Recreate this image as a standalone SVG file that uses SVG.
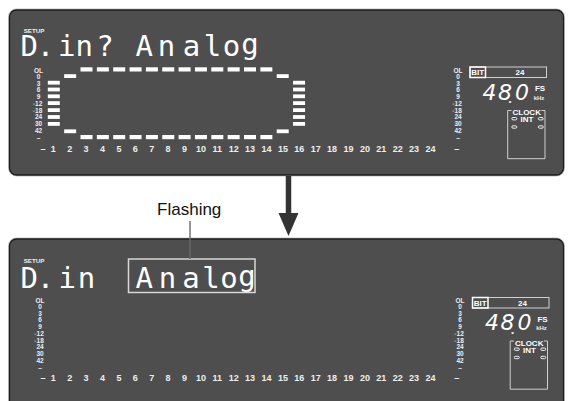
<svg xmlns="http://www.w3.org/2000/svg" xmlns:xlink="http://www.w3.org/1999/xlink" width="568" height="401" viewBox="0 0 568 401">
<style>
.panel-out{fill:none;stroke:#c4c4c4;stroke-width:3}
.panel{fill:#4e4e4e;stroke:#1e1e1e;stroke-width:1.3}
.lcd{font-family:"DejaVu Sans Mono","Liberation Mono",monospace;font-size:29px;fill:#fff;text-anchor:middle}
.sm{font-family:"Liberation Sans",Arial,sans-serif;font-weight:bold;fill:#eee;text-anchor:middle}
.sc{font-size:6.5px}
.num{font-size:9px}
.lab{font-size:8px;fill:#fff}
.bar{fill:#fff}
.seg{font-family:"DejaVu Sans ExtraLight","DejaVu Sans",sans-serif;font-weight:200;font-style:italic;font-size:22px;fill:#fff;text-anchor:middle}
.box{fill:none;stroke:#d0d0d0;stroke-width:1}
.ind{fill:#4e4e4e;stroke:#fff;stroke-width:0.9}
</style>
<defs>
<g id="scale" class="sm sc">
<text x="0" y="73.2">OL</text>
<text x="0" y="78.5">0</text>
<text x="0" y="85.8">3</text>
<text x="0" y="91.8">6</text>
<text x="0" y="98.5">9</text>
<text x="-1" y="105.8">◦12</text>
<text x="-1" y="112.5">◦18</text>
<text x="0" y="119.2">24</text>
<text x="0" y="125.8">30</text>
<text x="0" y="133.2">42</text>
<text x="0" y="139.6">–</text>
</g>
<g id="nums" class="sm num">
<text x="43" y="152.3">–</text>
<text x="53.3" y="152.3">1</text><text x="69.7" y="152.3">2</text><text x="86.1" y="152.3">3</text><text x="102.5" y="152.3">4</text><text x="118.9" y="152.3">5</text><text x="135.3" y="152.3">6</text><text x="151.7" y="152.3">7</text><text x="168.1" y="152.3">8</text><text x="184.5" y="152.3">9</text><text x="200.9" y="152.3">10</text><text x="217.3" y="152.3">11</text><text x="233.7" y="152.3">12</text><text x="250.1" y="152.3">13</text><text x="266.5" y="152.3">14</text><text x="282.9" y="152.3">15</text><text x="299.3" y="152.3">16</text><text x="315.7" y="152.3">17</text><text x="332.1" y="152.3">18</text><text x="348.5" y="152.3">19</text><text x="364.9" y="152.3">20</text><text x="381.3" y="152.3">21</text><text x="397.7" y="152.3">22</text><text x="414.1" y="152.3">23</text><text x="430.5" y="152.3">24</text>
<text x="456.7" y="151.6">–</text>
</g>
<g id="status">
<rect class="box" x="470" y="67" width="76.5" height="10.5"/>
<rect x="470" y="67" width="15.5" height="10.5" fill="none" stroke="#fff" stroke-width="1.5"/>
<text class="sm lab" x="477.8" y="75.2">BIT</text>
<text class="sm lab" x="520" y="75.2">24</text>
<text class="seg" x="489.5 505 522" y="99.5">480</text>
<text class="sm" x="510" y="103" font-size="13px" fill="#fff">.</text>
<text class="sm lab" x="540" y="91">FS</text>
<text class="sm" x="539" y="99.6" font-size="6px" fill="#fff">kHz</text>
<path class="box" d="M511.5,110.5 H507.7 V158.7 H545 V110.5 H541.5" stroke="#e4e4e4"/>
<text class="sm lab" x="526.7" y="115">CLOCK</text>
<text class="sm lab" x="527" y="122.3">INT</text>
<rect class="ind" x="511.8" y="117.5" width="5" height="2.4" rx="1.2"/>
<rect class="ind" x="511.8" y="125.8" width="5" height="2.4" rx="1.2"/>
<rect class="ind" x="538.3" y="117.5" width="5" height="2.4" rx="1.2"/>
<rect class="ind" x="538.3" y="125.8" width="5" height="2.4" rx="1.2"/>
</g>
<g id="barcol">
<rect class="bar" x="0" y="80.8" width="12" height="3.8"/>
<rect class="bar" x="0" y="87.6" width="12" height="3.8"/>
<rect class="bar" x="0" y="94.4" width="12" height="3.8"/>
<rect class="bar" x="0" y="101.2" width="12" height="3.8"/>
<rect class="bar" x="0" y="108.2" width="12" height="3.8"/>
<rect class="bar" x="0" y="115.1" width="12" height="3.8"/>
<rect class="bar" x="0" y="122" width="12" height="3.8"/>
</g>
<g id="dashpair">
<rect class="bar" x="0" y="67.3" width="12" height="4.2"/>
<rect class="bar" x="0" y="135" width="12" height="4.2"/>
</g>
<g id="edgepair">
<rect class="bar" x="0" y="74.2" width="12" height="3.8"/>
<rect class="bar" x="0" y="129.4" width="12" height="3.8"/>
</g>
</defs>
<rect width="568" height="401" fill="#fff"/>

<g id="top-panel">
<rect class="panel-out" x="9.5" y="10" width="554" height="165" rx="7"/>
<rect class="panel" x="9.5" y="10" width="554" height="165" rx="7"/>
<text class="sm" x="34" y="32.5" font-size="6.2px" fill="#fff">SETUP</text>
<text class="lcd" x="29.2 45.5 66.7 84.2 105" y="56.3">D.in?</text>
<text class="lcd" x="144.2 166.5 191.5 212.5 231.5 250" y="56.3">Analo<tspan dy="-2">g</tspan></text>
<use xlink:href="#scale" x="38.5" y="0"/>
<use xlink:href="#scale" x="458" y="0"/>
<use xlink:href="#nums"/>
<use xlink:href="#status"/>
<use xlink:href="#barcol" x="47.8"/>
<use xlink:href="#edgepair" x="64.15"/>
<use xlink:href="#dashpair" x="80.5"/><use xlink:href="#dashpair" x="96.85"/><use xlink:href="#dashpair" x="113.2"/><use xlink:href="#dashpair" x="129.55"/><use xlink:href="#dashpair" x="145.9"/><use xlink:href="#dashpair" x="162.25"/><use xlink:href="#dashpair" x="178.6"/><use xlink:href="#dashpair" x="194.95"/><use xlink:href="#dashpair" x="211.3"/><use xlink:href="#dashpair" x="227.65"/><use xlink:href="#dashpair" x="244"/><use xlink:href="#dashpair" x="260.35"/>
<use xlink:href="#edgepair" x="276.7"/>
<use xlink:href="#barcol" x="293.05"/>
</g>

<g id="bottom-panel">
<rect class="panel-out" x="9.5" y="239" width="554" height="180" rx="7"/>
<rect class="panel" x="9.5" y="239" width="554" height="180" rx="7"/>
<text class="sm" x="34" y="262.5" font-size="6.2px" fill="#fff">SETUP</text>
<text class="lcd" x="29.2 45.5 67.3 86.5" y="288.3">D.in</text>
<text class="lcd" x="144.2 167.5 191 211 229 247" y="288.3">Analo<tspan dy="-2">g</tspan></text>
<rect x="128.5" y="259" width="126.5" height="33.5" fill="none" stroke="#d8d8d8" stroke-width="1.5"/>
<use xlink:href="#scale" x="40" y="230"/>
<use xlink:href="#scale" x="460" y="230"/>
<use xlink:href="#nums" y="229"/>
<use xlink:href="#status" x="2.5" y="230.5"/>
</g>

<g id="flashing-label">
<text x="189.2" y="215" font-family="'Liberation Sans',Arial,sans-serif" font-size="17px" fill="#111" text-anchor="middle">Flashing</text>
</g>

<g id="connectors">
<line x1="190" y1="221" x2="190" y2="259" stroke="#6a6a6a" stroke-width="1.4"/>
<line x1="288.5" y1="176" x2="288.5" y2="214" stroke="#333" stroke-width="5.5"/>
<polygon points="278.5,213 298.5,213 288.5,236" fill="#333"/>
</g>
</svg>
